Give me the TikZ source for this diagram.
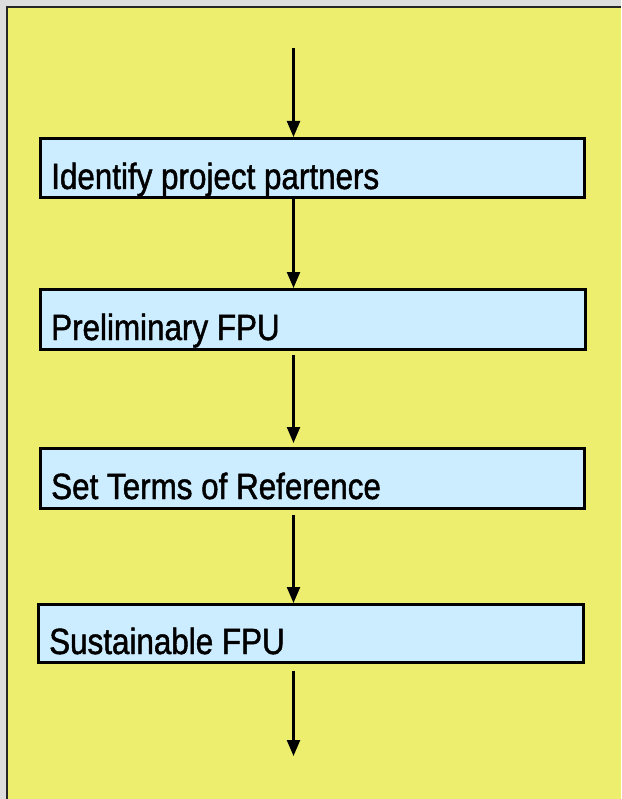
\documentclass[tikz,border=0pt]{standalone}
\usepackage{fontspec}
\setmainfont{Liberation Sans}[FakeStretch=0.86,FakeBold=1.3]
\usetikzlibrary{arrows.meta}
\definecolor{pagegray}{HTML}{DDDDDD}
\definecolor{panelyellow}{HTML}{EDED6E}
\definecolor{boxblue}{HTML}{CCECFF}
\tikzset{
  stepbox/.style={draw=black, line width=2.8pt, fill=boxblue, rectangle, inner sep=0pt, anchor=north west},
  steptext/.style={anchor=base west, inner sep=0pt, font=\fontsize{36.5}{40}\selectfont},
  arr/.style={line width=2.3pt, -{Triangle[width=13pt,length=16pt]}}
}
\begin{document}
\begin{tikzpicture}[x=1pt,y=1pt]
\useasboundingbox (0,0) rectangle (621,-799);
\fill[pagegray] (0,0) rectangle (621,-799);
\fill[panelyellow] (7,-7) rectangle (621,-799);
\draw[line width=2.4pt, black!85] (7,-799) -- (7,-7) -- (621,-7);

\node[stepbox, minimum width=544pt, minimum height=59pt] (b1) at (39,-137) {};
\node[stepbox, minimum width=545pt, minimum height=60pt] (b2) at (39,-288) {};
\node[stepbox, minimum width=544pt, minimum height=60pt] (b3) at (39,-447) {};
\node[stepbox, minimum width=545pt, minimum height=58pt] (b4) at (37,-603) {};

\node[steptext] (t1) at (51,-189) {Identify project partners};
\node[steptext] (t2) at (51,-340) {Preliminary FPU};
\node[steptext] (t3) at (51,-499) {Set Terms of Reference};
\node[steptext] (t4) at (49,-654) {Sustainable FPU};

\coordinate (a0) at (293.5,-48);
\coordinate (aend) at (293.5,-756);

\draw[arr] (a0) -- (b1.north -| a0);
\draw[arr] (b1.south -| a0) -- (b2.north -| a0);
\draw[arr, shorten <=4pt, shorten >=4pt] (b2.south -| a0) -- (b3.north -| a0);
\draw[arr, shorten <=5pt] (b3.south -| a0) -- (b4.north -| a0);
\draw[arr, shorten <=7pt] (b4.south -| a0) -- (aend);
\end{tikzpicture}
\end{document}
